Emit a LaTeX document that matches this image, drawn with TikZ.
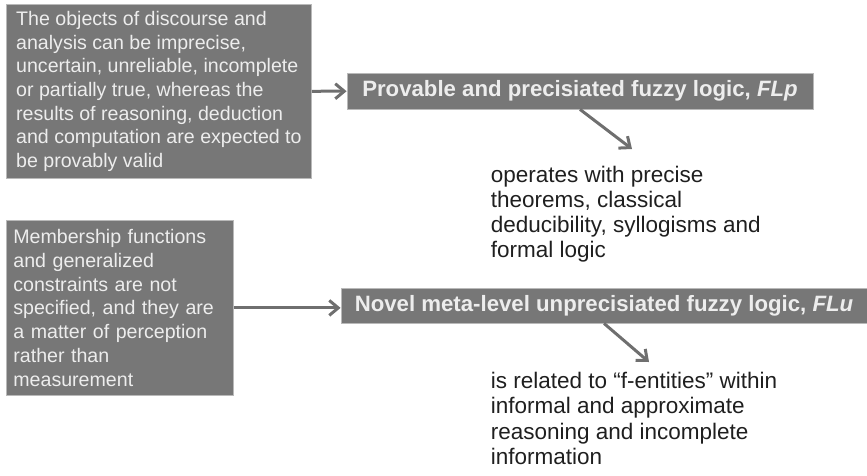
\documentclass[tikz,border=0pt]{standalone}
\usepackage{fontspec}
\setmainfont{Liberation Sans}
\usetikzlibrary{arrows.meta}
\definecolor{boxgray}{HTML}{777777}
\definecolor{arrowgray}{HTML}{6F6F6F}
\begin{document}
\begin{tikzpicture}[x=1pt,y=-1pt,
    greybox/.style={draw=gray!55,line width=0.8pt,fill=boxgray,text=white!93!black,inner sep=0pt},
    notebox/.style={greybox,anchor=north west,align=left,font=\fontsize{19.6}{23.7}\selectfont},
    logicbox/.style={greybox,font=\fontsize{22.2}{26}\selectfont\bfseries},
    plaintext/.style={anchor=north west,align=left,inner sep=0pt,text=black!88,font=\fontsize{22.5}{25.3}\selectfont},
    link/.style={draw=arrowgray,line width=3pt,-{Straight Barb[length=9pt,width=15pt]}}]
  \useasboundingbox (0,0) rectangle (867,475);
  % upper row
  \node[notebox,minimum width=305pt,minimum height=174pt] (objects) at (6,4)
    {The objects of discourse and\\analysis can be imprecise,\\uncertain, unreliable, incomplete\\or partially true, whereas the\\results of reasoning, deduction\\and computation are expected to\\be provably valid};
  \node[logicbox,minimum width=466pt,minimum height=36pt] (flp) at (580,91) {Provable and precisiated fuzzy logic, \textit{FLp}};
  \coordinate (flptip) at (632,149);
  \node[plaintext] (flpnote) at (490.7,165.5)
    {operates with precise\\theorems, classical\\deducibility, syllogisms and\\formal logic};
  \draw[link] (objects) -- (flp);
  \draw[link] (flp.south) -- (flptip);
  % lower row
  \node[notebox,minimum width=227pt,minimum height=175pt,text width=213pt] (member) at (6,220)
    {Membership functions\\and generalized\\constraints are not\\specified, and they are\\a matter of perception\\rather than\\measurement};
  \node[logicbox,minimum width=526pt,minimum height=35pt] (flu) at (604,305.5) {Novel meta-level unprecisiated fuzzy logic, \textit{FLu}};
  \coordinate (flutip) at (649,362);
  \node[plaintext] (flunote) at (490.7,372)
    {is related to “f-entities” within\\informal and approximate\\reasoning and incomplete\\information};
  \draw[link] (member.east) -- (member.east -| flu.west);
  \draw[link] (flu.south) -- (flutip);
\end{tikzpicture}
\end{document}
